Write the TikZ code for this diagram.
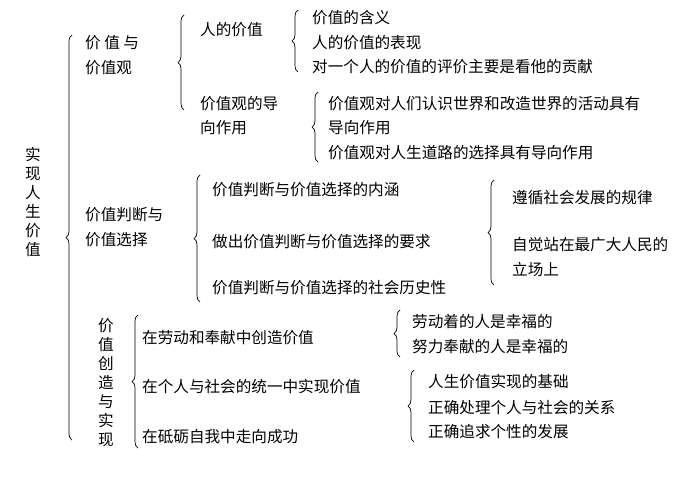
\documentclass[tikz,border=0pt]{standalone}
\usepackage{fontspec}
\setmainfont{Noto Sans CJK SC}
\usetikzlibrary{decorations.pathreplacing}
\begin{document}
\begin{tikzpicture}[x=1pt,y=-1pt,
  t/.style={anchor=west,inner sep=0pt,font=\fontsize{15.6}{17}\selectfont},
  v/.style={anchor=center,align=center,inner sep=0pt,font=\fontsize{15.6}{19}\selectfont},
  br/.style={decorate,decoration={brace,amplitude=6pt},line width=0.7pt}]
\useasboundingbox[fill=white] (0,0) rectangle (700,499);
\node[v] (root) at (33,202) {实\\现\\人\\生\\价\\值};
\draw[br] (72,440) -- (72,35);
\node[t] (a) at (85,43) {价 值 与};
\node[t] (a2) at (85,68) {价值观};
\draw[br] (184,110) -- (184,15);
\node[t] (a1) at (200,30) {人的价值};
\draw[br] (298,72) -- (298,10);
\node[t] (a11) at (312,18) {价值的含义};
\node[t] (a12) at (312,43) {人的价值的表现};
\node[t] (a13) at (312,67) {对一个人的价值的评价主要是看他的贡献};
\node[t] (b) at (200,104) {价值观的导};
\node[t] (b2) at (200,128) {向作用};
\draw[br] (318,162) -- (318,92);
\node[t] (b1) at (328,104) {价值观对人们认识世界和改造世界的活动具有};
\node[t] (b1b) at (328,128) {导向作用};
\node[t] (b3) at (328,153) {价值观对人生道路的选择具有导向作用};
\node[t] (c) at (85,215) {价值判断与};
\node[t] (c2) at (85,240) {价值选择};
\draw[br] (200,302) -- (200,175);
\node[t] (c1) at (212,190) {价值判断与价值选择的内涵};
\node[t] (c3) at (212,242) {做出价值判断与价值选择的要求};
\node[t] (c4) at (212,288) {价值判断与价值选择的社会历史性};
\draw[br] (494,285) -- (494,180);
\node[t] (d1) at (512,198) {遵循社会发展的规律};
\node[t] (d2) at (512,245) {自觉站在最广大人民的};
\node[t] (d3) at (512,270) {立场上};
\node[v] (e) at (106,383) {价\\值\\创\\造\\与\\实\\现};
\draw[br] (138,448) -- (138,315);
\node[t] (e1) at (142,338) {在劳动和奉献中创造价值};
\node[t] (e2) at (142,387) {在个人与社会的统一中实现价值};
\node[t] (e3) at (142,437) {在砥砺自我中走向成功};
\draw[br] (400,357) -- (400,310);
\node[t] (f1) at (412,322) {劳动着的人是幸福的};
\node[t] (f2) at (412,347) {努力奉献的人是幸福的};
\draw[br] (414,442) -- (414,370);
\node[t] (g1) at (428,382) {人生价值实现的基础};
\node[t] (g2) at (428,408) {正确处理个人与社会的关系};
\node[t] (g3) at (428,432) {正确追求个性的发展};
\end{tikzpicture}
\end{document}
